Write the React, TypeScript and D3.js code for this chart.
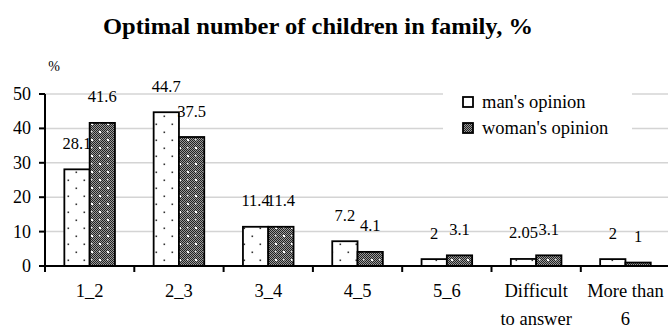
import React from "react";
import * as d3 from "d3";

const categories = ["1_2", "2_3", "3_4", "4_5", "5_6", "Difficult\nto answer", "More than\n6"];
const manValues = [28.1, 44.7, 11.4, 7.2, 2, 2.05, 2];
const womanValues = [41.6, 37.5, 11.4, 4.1, 3.1, 3.1, 1];
const yTicks = [0, 10, 20, 30, 40, 50];
const seriesNames = ["man's opinion", "woman's opinion"];
const title = "Optimal number of children in family, %";

const W = 668;
const H = 329;
const left = 45;
const bandW = 89.3;
const FONT = "Liberation Serif";

function T({ x, y, sx = 1, anchor = "middle", size = 15, children }: any) {
  return (
    <text
      x={0}
      y={0}
      transform={`translate(${x},${y}) scale(${sx},1)`}
      textAnchor={anchor}
      fontFamily={FONT}
      fontSize={size}
      fill="#000"
    >
      {children}
    </text>
  );
}

export default function App() {
  const x = d3
    .scaleBand<string>()
    .domain(categories)
    .range([left, left + bandW * categories.length])
    .paddingInner(0)
    .paddingOuter(0);
  const y = d3.scaleLinear().domain([0, 50]).range([266, 94]);
  const barW = 25.3;

  const series = [
    { values: manValues, fill: "url(#manPat)", offset: -barW },
    { values: womanValues, fill: "url(#womanPat)", offset: 0 },
  ];

  return (
    <svg width={W} height={H} style={{ position: "absolute", left: 0, top: 0 }}>
      <defs>
        <pattern id="manPat" width="16" height="16" patternUnits="userSpaceOnUse">
          <rect width="16" height="16" fill="#fff" />
          <rect x="3.5" y="3.5" width="1.6" height="1.6" fill="#333" />
          <rect x="11.5" y="11.5" width="1.6" height="1.6" fill="#333" />
        </pattern>
        <pattern id="checker" width="2" height="2" patternUnits="userSpaceOnUse">
          <rect width="2" height="2" fill="#9a9a9a" />
          <rect width="1" height="1" fill="#222" />
          <rect x="1" y="1" width="1" height="1" fill="#222" />
        </pattern>
        <pattern id="womanPat" width="16" height="16" patternUnits="userSpaceOnUse">
          <rect width="16" height="16" fill="url(#checker)" />
          <rect x="3" y="3" width="2" height="2" fill="#fff" />
          <rect x="11" y="11" width="2" height="2" fill="#fff" />
          <rect x="11" y="3" width="1.5" height="1.5" fill="#ddd" />
          <rect x="3" y="11" width="1.5" height="1.5" fill="#ddd" />
        </pattern>
      </defs>
      <rect width={W} height={H} fill="#fff" />

      {/* title */}
      <text
        x={318}
        y={34}
        textAnchor="middle"
        fontFamily={FONT}
        fontSize={23}
        fontWeight={700}
        textLength={430}
        lengthAdjust="spacingAndGlyphs"
      >
        {title}
      </text>

      {/* gridlines */}
      {yTicks.filter((t) => t > 0).map((t) => (
        <line key={t} x1={left} x2={W} y1={y(t)} y2={y(t)} stroke="#d4d4d4" strokeWidth={1.5} />
      ))}

      {/* y axis */}
      <line x1={left} x2={left} y1={y(50)} y2={y(0)} stroke="#000" strokeWidth={2} />
      {yTicks.map((t) => (
        <g key={t}>
          <line x1={left - 6} x2={left} y1={y(t)} y2={y(t)} stroke="#000" strokeWidth={2} />
          <T x={31} y={y(t) + 6} anchor="end" size={18}>
            {t}
          </T>
        </g>
      ))}
      <T x={54} y={71} size={14}>%</T>

      {/* legend */}
      <rect x={443} y={86} width={189} height={54} fill="#fff" />
      {seriesNames.map((name, i) => (
        <g key={name}>
          <rect
            x={463}
            y={97 + i * 26}
            width={10}
            height={10}
            fill={i === 0 ? "#fff" : "url(#checker)"}
            stroke="#000"
            strokeWidth={1.8}
          />
          <T x={482} y={108 + i * 26} anchor="start" size={18.5}>
            {name}
          </T>
        </g>
      ))}

      {/* bars */}
      {series.map((s, si) =>
        categories.map((c, i) => {
          const cx = (x(c) as number) + x.bandwidth() / 2 + s.offset;
          const v = s.values[i];
          return (
            <g key={si + "-" + i}>
              <rect
                x={cx}
                y={y(v)}
                width={barW}
                height={y(0) - y(v)}
                fill={s.fill}
                stroke="#000"
                strokeWidth={1.8}
              />
              <T x={cx + barW / 2} y={y(v) - 20.5} size={16.5}>
                {String(v)}
              </T>
            </g>
          );
        })
      )}

      {/* x axis */}
      <line x1={left} x2={W} y1={y(0)} y2={y(0)} stroke="#000" strokeWidth={2} />
      {d3.range(categories.length + 1).map((i) => (
        <line
          key={i}
          x1={left + i * bandW}
          x2={left + i * bandW}
          y1={y(0)}
          y2={y(0) + 6}
          stroke="#000"
          strokeWidth={2}
        />
      ))}
      {categories.map((c) => {
        const cx = (x(c) as number) + x.bandwidth() / 2;
        return c.split("\n").map((line, li) => (
          <T key={c + li} x={cx} y={297 + li * 28} size={18.5}>
            {line}
          </T>
        ));
      })}
    </svg>
  );
}
